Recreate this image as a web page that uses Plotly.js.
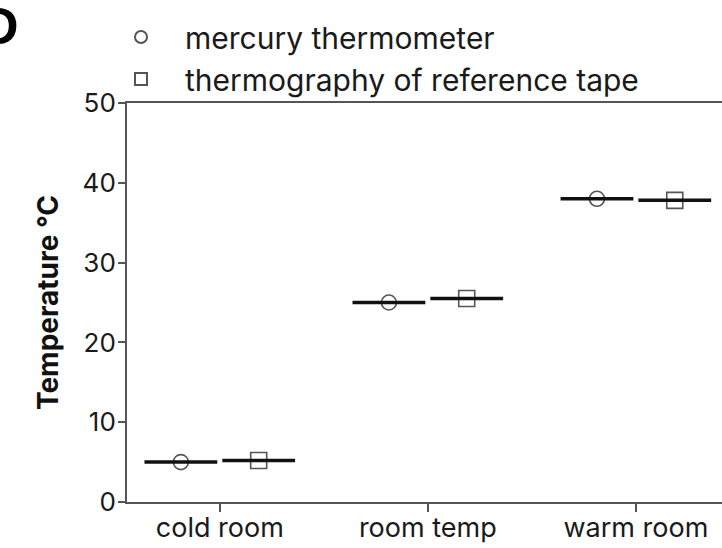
<!DOCTYPE html>
<html><head><meta charset="utf-8">
<script src="https://cdn.plot.ly/plotly-3.0.1.min.js"></script>
<style>html,body{margin:0;padding:0;background:#fff}#chart{width:722px;height:548px}</style>
</head><body><div id="chart"></div>
<script>
const categories = ['cold room', 'room temp', 'warm room'];
const mercury = [5.0, 25.0, 38.0];
const thermography = [5.2, 25.5, 37.8];
const seriesNames = ['mercury thermometer', 'thermography of reference tape'];
const yTicks = [0, 10, 20, 30, 40, 50];

// layout helpers (linear x axis, 1 unit per category group)
const groupIdx = categories.map((c, i) => i);
const offset = 0.187;

const xm = groupIdx.map(i => i - offset);
const xt = groupIdx.map(i => i + offset);
const ptColor = '#555555';

const traces = [
  {x: xm, y: mercury, mode: 'markers', type: 'scatter', name: seriesNames[0], legendgroup: 'a',
   marker: {symbol: 'circle-open', size: 15, color: ptColor, line: {width: 1.6, color: ptColor}}},
  {x: xt, y: thermography, mode: 'markers', type: 'scatter', name: seriesNames[1], legendgroup: 'b',
   marker: {symbol: 'square-open', size: 16, color: ptColor, line: {width: 1.6, color: ptColor}}},
  {x: xm, y: mercury, mode: 'markers', type: 'scatter', showlegend: false, hoverinfo: 'skip',
   marker: {symbol: 'line-ew', size: 52, line: {width: 3.5, color: '#111'}}},
  {x: xt, y: thermography, mode: 'markers', type: 'scatter', showlegend: false, hoverinfo: 'skip',
   marker: {symbol: 'line-ew', size: 52, line: {width: 3.5, color: '#111'}}}
];

const fnt = 'Inter, Liberation Sans, Arial, sans-serif';
const layout = {
  width: 722, height: 548,
  margin: {l: 127, r: 0, t: 103, b: 46},
  paper_bgcolor: '#fff', plot_bgcolor: '#fff',
  font: {family: fnt, color: '#1a1a1a', size: 24},
  xaxis: {range: [-0.446, 2.414], showgrid: false, zeroline: false,
    showline: true, linecolor: '#555', linewidth: 2, mirror: true,
    tickmode: 'array', tickvals: groupIdx, ticktext: categories,
    ticks: 'outside', ticklen: 8, tickwidth: 2, tickcolor: '#555', ticklabelstandoff: -7,
    tickfont: {size: 27, color: '#1a1a1a', family: fnt}},
  yaxis: {range: [0, 50], showgrid: false, zeroline: false,
    showline: true, linecolor: '#555', linewidth: 2,
    tickmode: 'array', tickvals: yTicks,
    ticks: 'outside', ticklen: 7, tickwidth: 2, tickcolor: '#555', ticklabelstandoff: -3,
    tickfont: {size: 26, color: '#1a1a1a', family: fnt},
    title: {text: '<b>Temperature °C</b>', font: {size: 28, color: '#111', family: fnt}, standoff: 16}},
  showlegend: true,
  legend: {x: -0.0504, xanchor: 'left', y: 1.2305, yanchor: 'top', bgcolor: 'rgba(0,0,0,0)',
    font: {size: 30, color: '#1a1a1a', family: fnt}, itemsizing: 'constant', itemwidth: 78, tracegroupgap: 0},
  annotations: [{text: '<b>D</b>', xref: 'paper', yref: 'paper', x: -0.178, y: 1.0, xanchor: 'right', yanchor: 'bottom',
    yshift: 46, showarrow: false, font: {size: 52, color: '#000', family: 'Liberation Sans, Arial, sans-serif'}}]
};
Plotly.newPlot('chart', traces, layout, {displayModeBar: false, staticPlot: true});
</script></body></html>
